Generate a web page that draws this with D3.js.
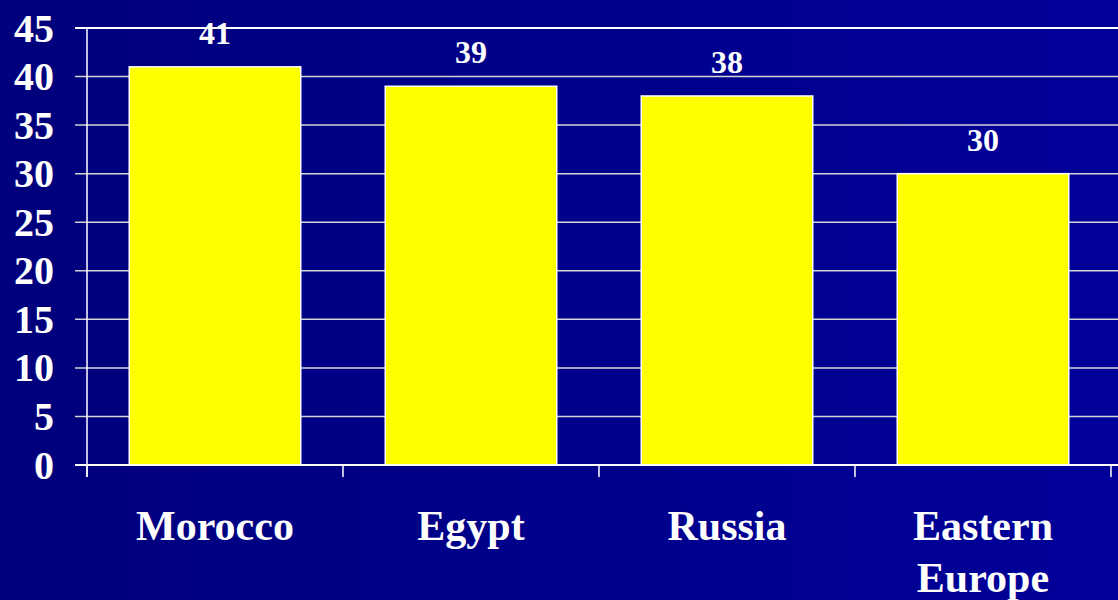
<!DOCTYPE html>
<html>
<head>
<meta charset="utf-8">
<script src="https://cdn.jsdelivr.net/npm/d3@7"></script>
<style>
  html, body { margin: 0; padding: 0; overflow: hidden; }
  svg { display: block; }
</style>
</head>
<body>
<div id="chart"></div>
<script>
const categories = [["Morocco"], ["Egypt"], ["Russia"], ["Eastern", "Europe"]];
const values = [41, 39, 38, 30];
const yTicks = [0, 5, 10, 15, 20, 25, 30, 35, 40, 45];

const width = 1118, height = 600;
const margin = {top: 28, right: 7, bottom: 135, left: 87};

const svg = d3.select("#chart").append("svg")
    .attr("width", width)
    .attr("height", height);

// background gradient, navy -> slightly lighter blue
const defs = svg.append("defs");
const grad = defs.append("linearGradient")
    .attr("id", "bg")
    .attr("x1", "0%").attr("x2", "100%")
    .attr("y1", "0%").attr("y2", "0%");
grad.append("stop").attr("offset", "0%").attr("stop-color", "#00007c");
grad.append("stop").attr("offset", "100%").attr("stop-color", "#000099");

svg.append("rect")
    .attr("width", width)
    .attr("height", height)
    .attr("fill", "url(#bg)");

const x = d3.scaleBand()
    .domain(d3.range(categories.length))
    .range([margin.left, width - margin.right])
    .paddingInner(0.33)
    .paddingOuter(0.165);

const xTicks = d3.scaleBand()
    .domain(d3.range(categories.length))
    .range([margin.left, width - margin.right]);

const y = d3.scaleLinear()
    .domain([0, 45])
    .range([height - margin.bottom, margin.top]);

// gridlines
svg.append("g")
    .selectAll("line")
    .data(yTicks.filter(d => d > 0))
    .join("line")
    .attr("x1", margin.left - 12)
    .attr("x2", width)
    .attr("y1", d => y(d))
    .attr("y2", d => y(d))
    .attr("stroke", d => d === 45 ? "#ffffff" : "#d4d4d4")
    .attr("stroke-width", d => d === 45 ? 2 : 1.5);

// y axis line
svg.append("line")
    .attr("x1", margin.left).attr("x2", margin.left)
    .attr("y1", y(45)).attr("y2", y(0) + 12)
    .attr("stroke", "#ffffff")
    .attr("stroke-width", 1.5);

// bars
svg.append("g")
    .selectAll("rect")
    .data(values)
    .join("rect")
    .attr("x", (d, i) => x(i))
    .attr("y", d => y(d))
    .attr("width", x.bandwidth())
    .attr("height", d => y(0) - y(d))
    .attr("fill", "#ffff00")
    .attr("stroke", "#ffffff")
    .attr("stroke-width", 1.5);

// zero axis line
svg.append("line")
    .attr("x1", margin.left - 12).attr("x2", width)
    .attr("y1", y(0)).attr("y2", y(0))
    .attr("stroke", "#ffffff")
    .attr("stroke-width", 2);

// x tick marks at band boundaries
const xBounds = d3.range(categories.length).map(i => xTicks(i)).concat([xTicks(categories.length - 1) + xTicks.bandwidth()]);
svg.append("g")
    .selectAll("line")
    .data(xBounds)
    .join("line")
    .attr("x1", d => d).attr("x2", d => d)
    .attr("y1", y(0)).attr("y2", y(0) + 12)
    .attr("stroke", "#ffffff")
    .attr("stroke-width", 1.5);

// y tick labels
svg.append("g")
    .selectAll("text")
    .data(yTicks)
    .join("text")
    .attr("x", 54)
    .attr("y", d => y(d))
    .attr("dy", "0.34em")
    .attr("text-anchor", "end")
    .attr("fill", "#ffffff")
    .style("font-family", "'Liberation Serif', 'Times New Roman', serif")
    .style("font-weight", "bold")
    .style("font-size", "40px")
    .text(d => d);

// value labels
svg.append("g")
    .selectAll("text")
    .data(values)
    .join("text")
    .attr("x", (d, i) => x(i) + x.bandwidth() / 2)
    .attr("y", d => y(d) - 23)
    .attr("text-anchor", "middle")
    .attr("fill", "#ffffff")
    .style("font-family", "'Liberation Serif', 'Times New Roman', serif")
    .style("font-weight", "bold")
    .style("font-size", "32px")
    .text(d => d);

// category labels
const catLabels = svg.append("g")
    .selectAll("text")
    .data(categories)
    .join("text")
    .attr("x", (d, i) => x(i) + x.bandwidth() / 2)
    .attr("y", 540)
    .attr("text-anchor", "middle")
    .attr("fill", "#ffffff")
    .style("font-family", "'Liberation Serif', 'Times New Roman', serif")
    .style("font-weight", "bold")
    .style("font-size", "42px");

catLabels.selectAll("tspan")
    .data(d => d)
    .join("tspan")
    .attr("x", function () { return d3.select(this.parentNode).attr("x"); })
    .attr("dy", (d, i) => i === 0 ? 0 : 52)
    .text(d => d);
</script>
</body>
</html>
